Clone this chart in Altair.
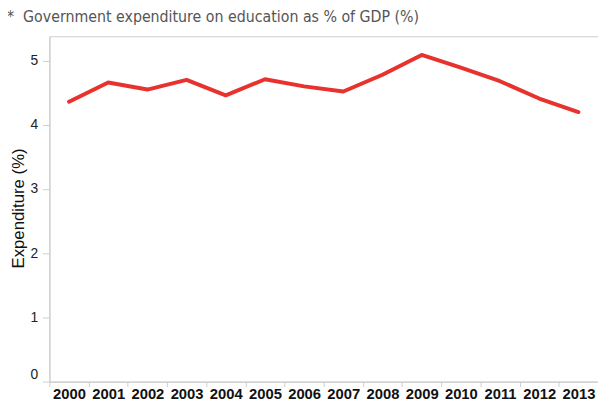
import altair as alt
import pandas as pd

years = ["2000", "2001", "2002", "2003", "2004", "2005", "2006",
         "2007", "2008", "2009", "2010", "2011", "2012", "2013"]
expenditure = [4.36, 4.66, 4.55, 4.70, 4.46, 4.71, 4.60,
               4.52, 4.78, 5.09, 4.89, 4.68, 4.41, 4.20]
y_ticks = [0, 1, 2, 3, 4, 5]
title_text = "*\u00a0\u00a0Government expenditure on education as % of GDP (%)"

df = pd.DataFrame({"year": years, "value": expenditure})

chart = alt.Chart(df).mark_line(
    color="#e8322e", strokeWidth=4, strokeJoin="round", strokeCap="round"
).encode(
    x=alt.X("year:N", sort=years,
            scale=alt.Scale(type="band", paddingInner=0, paddingOuter=0),
            axis=alt.Axis(title=None, labelAngle=0, tickBand="extent",
                          labelFont="Liberation Sans", labelFontSize=15,
                          labelFontWeight="bold", labelColor="#111",
                          tickSize=5, labelPadding=0,
                          domainColor="#cccccc", tickColor="#cccccc")),
    y=alt.Y("value:Q",
            scale=alt.Scale(domain=[0, 5.38], nice=False, zero=True),
            axis=alt.Axis(title="Expenditure (%)", values=y_ticks, grid=False,
                          labelFont="Liberation Sans", labelFontSize=14,
                          labelColor="#222", tickSize=7, labelPadding=5,
                          labelFlush=True,
                          domainColor="#cccccc", tickColor="#cccccc",
                          titleFont="Liberation Sans", titleFontSize=17,
                          titleFontWeight="normal", titleColor="#111",
                          titleAngle=270, titleX=-26, titleY=174,
                          titleAlign="center", titleBaseline="alphabetic")),
).properties(
    width=556,
    height=350,
    title=alt.TitleParams(title_text, anchor="start", frame="group", dx=-43,
                          offset=11, font="DejaVu Sans Condensed", fontSize=16,
                          fontWeight="normal", color="#555555"),
    autosize=alt.AutoSizeParams(type="none"),
    padding={"left": 42, "top": 26, "right": 0, "bottom": 17},
).configure_view(stroke="#cccccc", strokeWidth=1)

chart.save("out.html", embed_options={"renderer": "svg", "actions": False})
